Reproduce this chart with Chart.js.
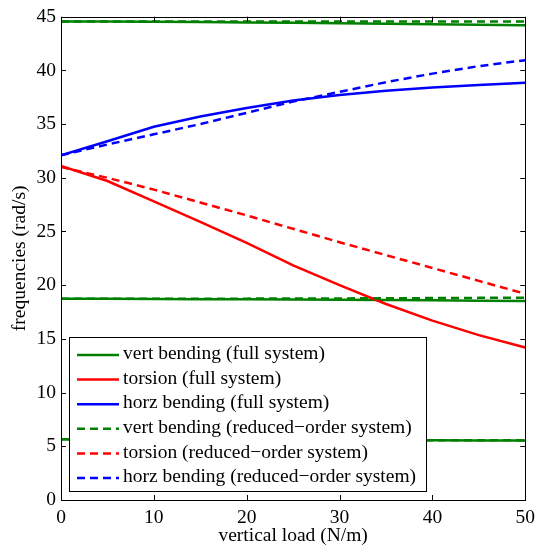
<!DOCTYPE html>
<html>
<head>
<meta charset="utf-8">
<script src="https://cdn.jsdelivr.net/npm/chart.js@4.4.1/dist/chart.umd.min.js"></script>
<style>
  html, body { margin: 0; padding: 0; background: #fff; }
  #wrap { width: 541px; height: 552px; }
</style>
</head>
<body>
<div id="wrap"><canvas id="freqChart" width="541" height="552"></canvas></div>
<script>
// vertical load (N/m)
const loads = [0, 5, 10, 15, 20, 25, 30, 35, 40, 45, 50];

// full system
const vertFull1 = [44.55, 44.55, 44.52, 44.5, 44.47, 44.43, 44.4, 44.35, 44.3, 44.25, 44.2];
const vertFull2 = [18.74, 18.73, 18.72, 18.7, 18.69, 18.67, 18.65, 18.62, 18.6, 18.56, 18.53];
const vertFull3 = [5.66, 5.65, 5.64, 5.63, 5.62, 5.6, 5.59, 5.58, 5.56, 5.55, 5.53];
const torsionFull = [31.1, 29.7, 27.8, 25.9, 23.95, 21.85, 20.0, 18.25, 16.7, 15.35, 14.2];
const horzFull = [32.1, 33.4, 34.75, 35.7, 36.5, 37.2, 37.7, 38.1, 38.4, 38.65, 38.85];

// reduced-order system
const vertRed1 = [44.55, 44.55, 44.55, 44.55, 44.55, 44.55, 44.55, 44.55, 44.55, 44.55, 44.55];
const vertRed2 = [18.74, 18.74, 18.74, 18.75, 18.75, 18.76, 18.77, 18.78, 18.8, 18.82, 18.84];
const vertRed3 = [5.66, 5.65, 5.64, 5.63, 5.62, 5.61, 5.6, 5.58, 5.57, 5.56, 5.55];
const torsionRed = [31.0, 30.0, 28.9, 27.7, 26.5, 25.25, 24.0, 22.8, 21.6, 20.4, 19.2];
const horzRed = [32.1, 33.1, 34.05, 35.0, 36.05, 37.1, 38.0, 38.9, 39.7, 40.4, 40.95];

const xTicks = [0, 10, 20, 30, 40, 50];
const yTicks = [0, 5, 10, 15, 20, 25, 30, 35, 40, 45];

const GREEN = '#008000';
const RED = '#ff0000';
const BLUE = '#0000ff';
const DASH = [8, 5];
const FONT = '"Liberation Serif", "Times New Roman", serif';
const FSIZE = 19.5;

function pts(arr) {
    return arr.map((v, i) => ({ x: loads[i], y: v }));
}

function line(label, arr, color, dashed) {
    return {
        label: label,
        data: pts(arr),
        borderColor: color,
        backgroundColor: color,
        borderWidth: 2.5,
        borderDash: dashed ? DASH : [],
        pointRadius: 0,
        tension: 0,
        fill: false,
        order: dashed ? 1 : 2,
        inLegend: label !== ''
    };
}

const datasets = [
    line('vert bending (full system)', vertFull1, GREEN, false),
    line('torsion (full system)', torsionFull, RED, false),
    line('horz bending (full system)', horzFull, BLUE, false),
    line('vert bending (reduced\u2212order system)', vertRed1, GREEN, true),
    line('torsion (reduced\u2212order system)', torsionRed, RED, true),
    line('horz bending (reduced\u2212order system)', horzRed, BLUE, true),
    line('', vertFull2, GREEN, false),
    line('', vertFull3, GREEN, false),
    line('', vertRed2, GREEN, true),
    line('', vertRed3, GREEN, true)
];

// box around the axes + inward ticks, matlab style
const axesFrame = {
    id: 'axesFrame',
    afterDatasetsDraw(chart) {
        const ctx = chart.ctx;
        const a = chart.chartArea;
        const xs = chart.scales.x, ys = chart.scales.y;
        const tl = 5;
        ctx.save();
        ctx.strokeStyle = '#000';
        ctx.lineWidth = 1;
        ctx.beginPath();
        xTicks.forEach(v => {
            const px = Math.round(xs.getPixelForValue(v)) + 0.5;
            ctx.moveTo(px, a.bottom); ctx.lineTo(px, a.bottom - tl);
            ctx.moveTo(px, a.top); ctx.lineTo(px, a.top + tl);
        });
        yTicks.forEach(v => {
            const py = Math.round(ys.getPixelForValue(v)) + 0.5;
            ctx.moveTo(a.left, py); ctx.lineTo(a.left + tl, py);
            ctx.moveTo(a.right, py); ctx.lineTo(a.right - tl, py);
        });
        ctx.stroke();
        ctx.strokeRect(Math.round(a.left) + 0.5, Math.round(a.top) + 0.5,
            Math.round(a.right - a.left), Math.round(a.bottom - a.top));
        ctx.restore();
    }
};

// legend box in the lower left of the axes
const boxLegend = {
    id: 'boxLegend',
    afterDraw(chart) {
        const ctx = chart.ctx;
        const items = chart.data.datasets.filter(d => d.inLegend);
        const box = { x: 69, y: 337, w: 357, h: 154 };
        const rowY = 354, rowStep = 24.6;
        ctx.save();
        ctx.fillStyle = '#fff';
        ctx.fillRect(box.x, box.y, box.w, box.h);
        ctx.strokeStyle = '#000';
        ctx.lineWidth = 1;
        ctx.strokeRect(box.x + 0.5, box.y + 0.5, box.w, box.h);
        ctx.font = FSIZE + 'px ' + FONT;
        ctx.textBaseline = 'middle';
        ctx.textAlign = 'left';
        items.forEach((d, i) => {
            const y = rowY + i * rowStep;
            ctx.strokeStyle = d.borderColor;
            ctx.lineWidth = 2.5;
            ctx.setLineDash(d.borderDash);
            ctx.beginPath();
            ctx.moveTo(77, y + 1);
            ctx.lineTo(119, y + 1);
            ctx.stroke();
            ctx.setLineDash([]);
            ctx.fillStyle = '#000';
            ctx.fillText(d.label, 123, y);
        });
        ctx.restore();
    }
};

const ctx = document.getElementById('freqChart').getContext('2d');
new Chart(ctx, {
    type: 'line',
    data: { datasets: datasets },
    options: {
        responsive: false,
        animation: false,
        devicePixelRatio: 1,
        layout: { padding: { top: 13, right: 15, left: 0, bottom: 0 } },
        plugins: {
            legend: { display: false },
            tooltip: { enabled: false }
        },
        scales: {
            x: {
                type: 'linear',
                min: 0,
                max: 50,
                afterFit(scale) { scale.height = 52; },
                afterBuildTicks(scale) { scale.ticks = xTicks.map(v => ({ value: v })); },
                grid: { display: false, drawTicks: false },
                border: { display: false },
                ticks: {
                    color: '#000',
                    padding: 6,
                    maxRotation: 0,
                    font: { family: FONT, size: FSIZE }
                },
                title: {
                    display: true,
                    text: 'vertical load (N/m)',
                    color: '#000',
                    font: { family: FONT, size: FSIZE },
                    padding: { top: 0, bottom: 4 }
                }
            },
            y: {
                type: 'linear',
                min: 0,
                max: 45,
                afterFit(scale) { scale.width = 61; },
                afterBuildTicks(scale) { scale.ticks = yTicks.map(v => ({ value: v })); },
                grid: { display: false, drawTicks: false },
                border: { display: false },
                ticks: {
                    color: '#000',
                    padding: 5,
                    font: { family: FONT, size: FSIZE }
                },
                title: {
                    display: true,
                    text: 'frequencies (rad/s)',
                    color: '#000',
                    font: { family: FONT, size: FSIZE },
                    padding: { top: 8, bottom: 0 }
                }
            }
        }
    },
    plugins: [axesFrame, boxLegend]
});
</script>
</body>
</html>
